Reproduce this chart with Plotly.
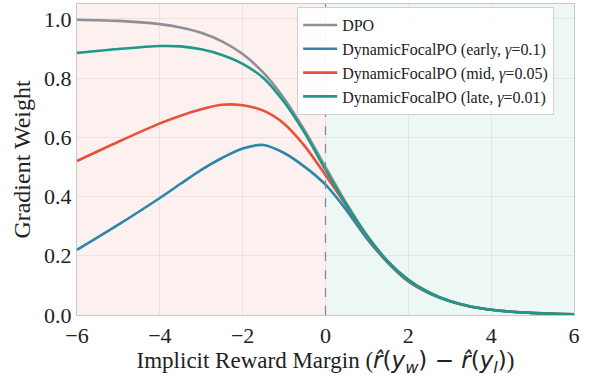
import plotly.graph_objects as go

margin_x = [-6, -5, -4, -3.5, -3, -2.5, -2, -1.5, -1, -0.5, 0, 0.5, 1, 1.5, 2, 2.5, 3, 3.5, 4, 4.5, 5, 5.5, 6]
dpo = [0.997, 0.993, 0.982, 0.971, 0.953, 0.924, 0.881, 0.818, 0.731, 0.622, 0.5, 0.378, 0.269, 0.182, 0.119, 0.076, 0.047, 0.029, 0.018, 0.011, 0.007, 0.004, 0.0025]
early = [0.22, 0.305, 0.395, 0.443, 0.49, 0.53, 0.562, 0.574, 0.547, 0.50, 0.44, 0.355, 0.258, 0.177, 0.113, 0.073, 0.046, 0.028, 0.018, 0.011, 0.007, 0.004, 0.0025]
mid = [0.52, 0.585, 0.647, 0.673, 0.695, 0.710, 0.708, 0.69, 0.646, 0.57, 0.472, 0.37, 0.264, 0.18, 0.117, 0.075, 0.047, 0.029, 0.018, 0.011, 0.007, 0.004, 0.0025]
late = [0.885, 0.898, 0.908, 0.907, 0.897, 0.878, 0.848, 0.80, 0.719, 0.614, 0.49, 0.373, 0.268, 0.182, 0.119, 0.076, 0.047, 0.029, 0.018, 0.011, 0.007, 0.004, 0.0025]

series = [
    ("DPO", dpo, "#8d8f99"),
    ("DynamicFocalPO (early, <i>γ</i>=0.1)", early, "#2e86ab"),
    ("DynamicFocalPO (mid, <i>γ</i>=0.05)", mid, "#e9503a"),
    ("DynamicFocalPO (late, <i>γ</i>=0.01)", late, "#1b9a8a"),
]

fig = go.Figure()
for name, vals, col in series:
    fig.add_trace(go.Scatter(x=margin_x, y=vals, mode="lines", name=name,
                             line=dict(color=col, width=2.6, shape="spline", smoothing=0.8)))

fig.add_shape(type="rect", x0=-6, x1=0, y0=0, y1=1.05, xref="x", yref="y",
              fillcolor="rgba(231,76,60,0.08)", line_width=0, layer="below")
fig.add_shape(type="rect", x0=0, x1=6, y0=0, y1=1.05, xref="x", yref="y",
              fillcolor="rgba(22,160,133,0.08)", line_width=0, layer="below")
fig.add_shape(type="line", x0=0, x1=0, y0=0, y1=1.05, xref="x", yref="y",
              line=dict(color="#8a8a8a", width=1.3, dash="dash"))

serif = "Liberation Serif, Times New Roman, serif"
fig.update_layout(
    width=589, height=379,
    margin=dict(l=77, r=15, t=4, b=64),
    paper_bgcolor="white", plot_bgcolor="white",
    font=dict(family=serif, color="#222222"),
    showlegend=True,
    legend=dict(x=0.443, y=0.99, xanchor="left", yanchor="top",
                bgcolor="rgba(255,255,255,0.9)", bordercolor="#d0d0d0", borderwidth=1,
                font=dict(family=serif, size=16, color="#222222"),
                itemwidth=34, tracegroupgap=0),
    xaxis=dict(range=[-6, 6], tickvals=[-6, -4, -2, 0, 2, 4, 6], ticks="",
               tickfont=dict(family=serif, size=22), showgrid=True, gridcolor="rgba(200,200,200,0.35)",
               zeroline=False, showline=True, linecolor="#c8c8c8", linewidth=1.2, mirror=True,
               title=dict(text="Implicit Reward Margin (<span style='font-family:DejaVu Sans'><i>r̂</i>(<i>y</i><sub><i>w</i></sub>) − <i>r̂</i>(<i>y</i><sub><i>l</i></sub>)</span>)",
                          font=dict(family=serif, size=23), standoff=4)),
    yaxis=dict(range=[0, 1.05], tickvals=[0, 0.2, 0.4, 0.6, 0.8, 1.0], tickformat=".1f", ticks="",
               tickfont=dict(family=serif, size=22), showgrid=True, gridcolor="rgba(200,200,200,0.35)",
               zeroline=False, showline=True, linecolor="#c8c8c8", linewidth=1.2, mirror=True,
               title=dict(text="Gradient Weight", font=dict(family=serif, size=24), standoff=6)),
)

fig.write_html("out.html", config={"displayModeBar": False},
               post_script="document.body.style.margin='0';document.body.style.padding='0';")
